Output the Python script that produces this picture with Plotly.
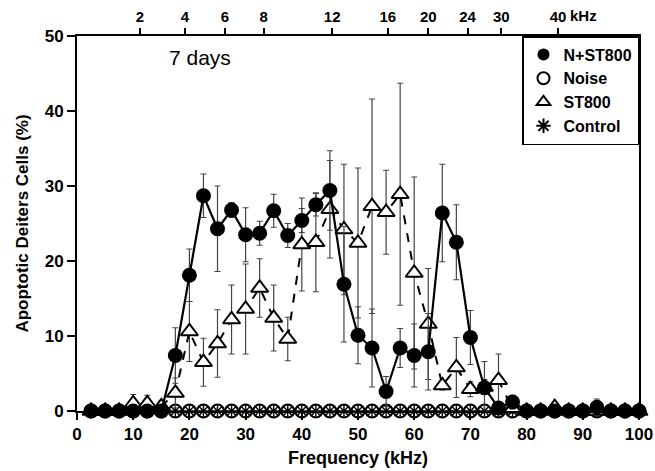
import plotly.graph_objects as go

# ---------------- data ----------------
freq = [2.5 * i for i in range(1, 41)]

n_st800 = [0, 0, 0, 0, 0, 0, 7.4, 18.1, 28.7, 24.3, 26.8, 23.5, 23.7, 26.7, 23.4, 25.4,
           27.5, 29.4, 16.9, 10.1, 8.4, 2.6, 8.4, 7.4, 7.9, 26.4, 22.5, 9.8, 3.1, 0.4,
           1.2, 0, 0, 0, 0, 0, 0.5, 0, 0, 0]
n_st800_err = [0, 0, 0, 0, 0, 0, 3.7, 3.5, 2.9, 5.7, 1.0, 3.6, 1.6, 2.2, 1.6, 1.6,
               1.5, 5.3, 7.7, 3.8, 5.2, 2.0, 2.6, 4.2, 5.1, 6.5, 5.0, 3.6, 3.5, 0.3,
               0.9, 0, 0, 0, 0, 0, 1.1, 0, 0, 0]

st800 = [0, 0, 0, 1.0, 1.0, 0.6, 2.4, 10.6, 6.5, 9.0, 12.2, 13.6, 16.4, 12.4, 9.6, 22.2,
         22.5, 26.9, 24.2, 22.4, 27.3, 26.5, 28.9, 18.4, 11.6, 3.4, 5.8, 2.9, 3.2, 4.1,
         0.3, 0, 0, 0.5, 0, 0, 0, 0, 0, 0]
st800_err = [0, 0, 0, 1.2, 1.1, 0.7, 2.0, 4.0, 3.2, 4.5, 4.6, 6.0, 3.9, 4.4, 2.9, 6.2,
             6.6, 6.5, 8.7, 10.0, 14.3, 5.6, 14.8, 12.8, 7.4, 0.6, 4.0, 1.0, 1.0, 3.5,
             0.5, 0, 0, 0.4, 0, 0, 0, 0, 0, 0]

noise = [0] * 40
control = [0] * 40

top_tick_pos = [11.2, 19.2, 26.3, 33.2, 45.4, 55.3, 62.5, 69.5, 75.5, 85.6]
top_tick_text = ["2", "4", "6", "8", "12", "16", "20", "24", "30", "40"]

FONT = "Liberation Sans, Arial, sans-serif"
ERRC = "#444444"

fig = go.Figure()

# Noise (open circles) and Control (asterisks) at the bottom
fig.add_trace(go.Scatter(x=freq, y=noise, mode="markers", showlegend=False,
                         cliponaxis=False,
                         marker=dict(symbol="circle-open", size=13, color="black",
                                     line=dict(width=2.2, color="black"))))
fig.add_trace(go.Scatter(x=freq, y=control, mode="markers", showlegend=False,
                         cliponaxis=False,
                         marker=dict(symbol="asterisk-open", size=11, color="black",
                                     line=dict(width=1.4, color="black"))))

# ST800 (open triangles, dashed line)
fig.add_trace(go.Scatter(x=freq, y=st800, mode="lines+markers", showlegend=False,
                         cliponaxis=False,
                         line=dict(color="black", width=2, dash="dash"),
                         marker=dict(symbol="triangle-up", size=15, color="white",
                                     line=dict(width=2, color="black")),
                         error_y=dict(type="data", array=st800_err, visible=True,
                                      color=ERRC, thickness=1.2, width=3)))

# N+ST800 (filled circles, solid line)
fig.add_trace(go.Scatter(x=freq, y=n_st800, mode="lines+markers", showlegend=False,
                         cliponaxis=False,
                         line=dict(color="black", width=2.2),
                         marker=dict(symbol="circle", size=15, color="black",
                                     line=dict(width=0)),
                         error_y=dict(type="data", array=n_st800_err, visible=True,
                                      color=ERRC, thickness=1.2, width=3)))

# legend-only entries
fig.add_trace(go.Scatter(x=[None], y=[None], mode="markers", name="N+ST800",
                         marker=dict(symbol="circle", size=14, color="black")))
fig.add_trace(go.Scatter(x=[None], y=[None], mode="markers", name="Noise",
                         marker=dict(symbol="circle-open", size=14, color="black",
                                     line=dict(width=2.2))))
fig.add_trace(go.Scatter(x=[None], y=[None], mode="markers", name="ST800",
                         marker=dict(symbol="triangle-up-open", size=14, color="black",
                                     line=dict(width=2.2))))
fig.add_trace(go.Scatter(x=[None], y=[None], mode="markers", name="Control",
                         marker=dict(symbol="asterisk-open", size=14, color="black",
                                     line=dict(width=1.2))))

# invisible trace to activate top axis
fig.add_trace(go.Scatter(x=[None], y=[None], xaxis="x2", showlegend=False,
                         hoverinfo="skip"))

fig.update_layout(
    width=655, height=471,
    margin=dict(l=77, r=16, t=36, b=60),
    paper_bgcolor="white", plot_bgcolor="white",
    font=dict(family=FONT, color="black"),
    xaxis=dict(range=[0, 100], tickmode="array", tickvals=list(range(0, 101, 10)),
               ticks="outside", ticklen=7, tickwidth=2, tickcolor="black",
               showline=True, linewidth=2, linecolor="black", mirror=True,
               showgrid=False, zeroline=False, automargin=False,
               tickfont=dict(family=FONT, size=17, color="black", weight="bold"),
               title=dict(text="<b>Frequency (kHz)</b>", font=dict(family=FONT, size=18),
                          standoff=8)),
    xaxis2=dict(range=[0, 100], overlaying="x", side="top", tickmode="array",
                tickvals=top_tick_pos, ticktext=top_tick_text,
                ticks="outside", ticklen=7, tickwidth=2, tickcolor="black",
                showline=False, showgrid=False, zeroline=False, automargin=False,
                tickfont=dict(family=FONT, size=15, color="black", weight="bold")),
    yaxis=dict(range=[0, 50], tickmode="array", tickvals=list(range(0, 51, 10)),
               ticks="outside", ticklen=8, tickwidth=2, tickcolor="black",
               showline=True, linewidth=2, linecolor="black", mirror=True,
               showgrid=False, zeroline=False, automargin=False,
               tickfont=dict(family=FONT, size=17, color="black", weight="bold"),
               title=dict(text="<b>Apoptotic Deiters Cells (%)</b>",
                          font=dict(family=FONT, size=17), standoff=12)),
    legend=dict(x=1, xanchor="right", y=1, yanchor="top",
                bgcolor="white", bordercolor="black", borderwidth=1.5,
                font=dict(family=FONT, size=16, color="black", weight="bold"),
                itemsizing="constant", tracegroupgap=0),
    annotations=[
        dict(x=21.9, y=47.1, xref="x", yref="y", text="7 days", showarrow=False,
             font=dict(family=FONT, size=21, color="black")),
        dict(x=85.6, y=1, xref="x", yref="paper", yanchor="bottom", xanchor="left",
             yshift=10, xshift=10, text="<b>kHz</b>", showarrow=False,
             font=dict(family=FONT, size=15, color="black")),
    ],
)

fig.write_html("out.html", config={"displayModeBar": False},
               post_script="document.body.style.margin='0px';")
